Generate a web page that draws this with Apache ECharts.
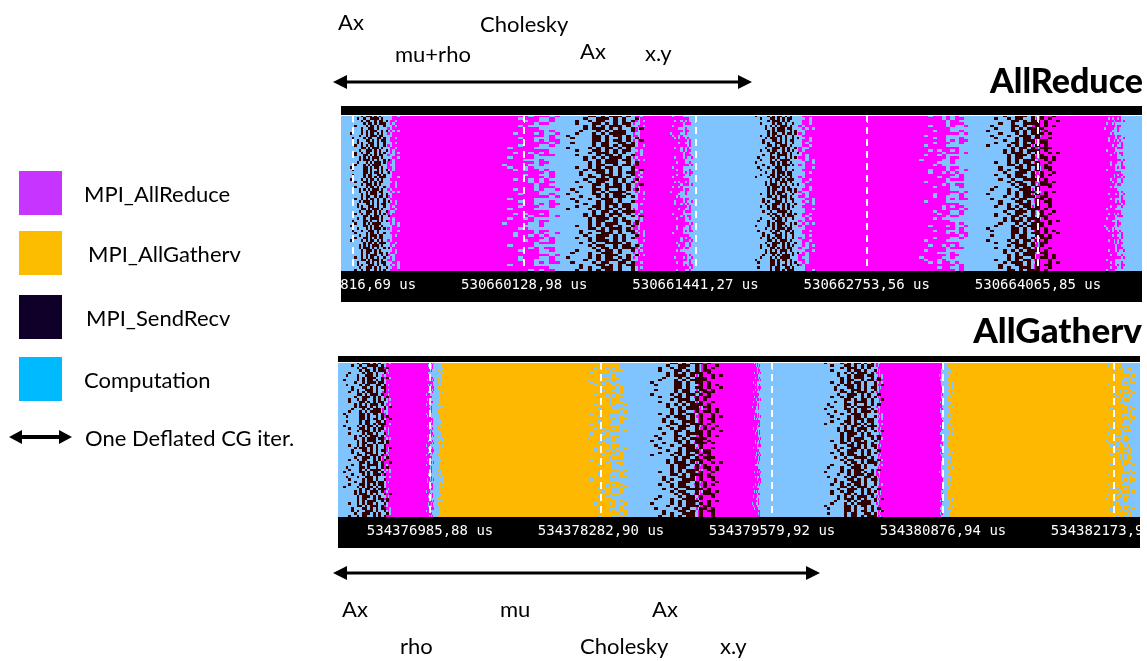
<!DOCTYPE html>
<html><head><meta charset="utf-8">
<script src="https://cdn.jsdelivr.net/npm/echarts@6/dist/echarts.min.js"></script>
<style>html,body{margin:0;padding:0;background:#fff}#c{width:1147px;height:661px}</style>
</head><body><div id="c"></div>
<script>
// ---- states ----
const stateNames = ['Computation', 'MPI_AllReduce', 'MPI_AllGatherv', 'MPI_SendRecv'];
const traceColors = ['#80C4FF', '#FF00FF', '#FFB800', '#330000'];
const legendLabels = ['MPI_AllReduce', 'MPI_AllGatherv', 'MPI_SendRecv', 'Computation'];
const legendColors = ['#C733FF', '#FCBC00', '#0E0028', '#00BAFF'];
const rowCount = 64;

// ---- AllReduce trace (times in us, offsets from first tick) ----
const topTicks = [530658816.69, 530660128.98, 530661441.27, 530662753.56, 530664065.85];
const topSpan = [-92, 6046];
// [state, leadStart, solidStart, solidEnd, trailEnd]
const topCollectives = [
  [1, 245, 398, 1103, 1586],
  [1, 2123, 2276, 2414, 2605],
  [1, 3387, 3594, 4307, 4713],
  [1, 5188, 5303, 5740, 5916]
];
// SendRecv bands [start, end]
const topSendRecv = [[-40, 300], [1600, 2260], [3060, 3440], [4820, 5450]];

// ---- AllGatherv trace ----
const botTicks = [534376985.88, 534378282.90, 534379579.92, 534380876.94, 534382173.96];
const botSpan = [-698, 5385];
const botCollectives = [
  [1, -379, -265, -40, 30],
  [2, 53, 114, 1160, 1494],
  [1, 1990, 2100, 2440, 2510],
  [1, 3375, 3451, 3860, 3890],
  [2, 3913, 3982, 5097, 5347]
];
const botSendRecv = [[-680, -270], [1640, 2250], [2960, 3470]];

// ---- per-process textures (1 = collective, # = SendRecv) ----
const leadTex = ['00101111', '01011111', '00011011', '00110111', '01001111',
  '00011111', '00101011', '01101111', '00010111', '00111111'];
const trailTex = ['111111101100', '111101110010', '111111111010', '110111100000',
  '111111011101', '111011010100', '111111110000', '101111001000', '111111101011',
  '111110110010', '111111111100', '111011101001', '110110100000', '111111010110',
  '111110001000', '111111111101', '111010110100', '111101000000', '111111101110',
  '111101100010'];
const srTex = ['...#....#.##.#..#...', '......##.#.###.#....', '..#....#.##..##.#...',
  '.....#.###.#.#..#.#.', '....#..#..####.#....', '...#...##.#.#.##....',
  '......#.#.###..#.#..', '.#.....##.#.##.#....', '....#.#..###.#..#...',
  '.......#.##.#.###...', '...#..#.##..#.#.#...', '.....#..#.###.##....',
  '..#....##.#..#.#.#..', '......#.###.#.#.....', '....#...#.#.###.#...',
  '...#..#.#.##.#..#...', '.......##.#.##.#..#.', '..#...#..###.#......',
  '.....#.#.#.###.#....', '....#...##.#.#.##...', '...#...#.#.####.....',
  '......#.##..#.##.#..', '.#....#.#.##.#.#....', '.....#..###.#.#..#..'];
// which texture each process row shows
const rowSeq = [13, 4, 21, 9, 0, 17, 6, 22, 11, 2, 19, 8, 15, 1, 23, 10, 5, 18, 3, 14,
  20, 7, 12, 16, 2, 9, 22, 5, 13, 0, 18, 11, 6, 21, 15, 3, 19, 8, 1, 23,
  10, 16, 4, 12, 20, 7, 14, 17, 0, 11, 5, 22, 9, 18, 3, 13, 21, 6, 15, 1,
  19, 8, 23, 10];

function pick(tex, r, k) { return tex[rowSeq[(r + 13 * k) % rowSeq.length] % tex.length]; }
function addBins(segs, r, a, b, pattern, ch, st) {
  const w = (b - a) / pattern.length;
  let i = 0;
  while (i < pattern.length) {
    if (pattern[i] === ch) {
      let j = i;
      while (j < pattern.length && pattern[j] === ch) j++;
      segs.push([r, a + i * w, a + j * w, st]);
      i = j;
    } else i++;
  }
}
function buildSegments(base, span, collectives, sendRecv) {
  const segs = [];
  for (let r = 0; r < rowCount; r++) segs.push([r, base + span[0], base + span[1], 0]);
  collectives.forEach((c, k) => {
    const [st, a, b, d0, d1] = c;
    for (let r = 0; r < rowCount; r++) {
      segs.push([r, base + b, base + d0, st]);
      addBins(segs, r, base + a, base + b, pick(leadTex, r, k + 2), '1', st);
      addBins(segs, r, base + d0, base + d1, pick(trailTex, r, k + 5), '1', st);
    }
  });
  sendRecv.forEach((s, k) => {
    for (let r = 0; r < rowCount; r++) {
      addBins(segs, r, base + s[0], base + s[1], pick(srTex, r, k), '#', 3);
    }
  });
  return segs;
}

const topSegs = buildSegments(topTicks[0], topSpan, topCollectives, topSendRecv);
const botSegs = buildSegments(botTicks[0], botSpan, botCollectives, botSendRecv);

function renderSeg(params, api) {
  const row = api.value(0), s = api.value(1), e = api.value(2), st = api.value(3);
  const p0 = api.coord([s, row]);
  const p1 = api.coord([e, row + 1]);
  const cs = params.coordSys;
  const x0 = Math.round(Math.max(cs.x, Math.min(p0[0], p1[0])));
  const x1 = Math.round(Math.min(cs.x + cs.width, Math.max(p0[0], p1[0])));
  const y0 = Math.round(Math.min(p0[1], p1[1]));
  const y1 = Math.round(Math.max(p0[1], p1[1]));
  if (x1 <= x0) return null;
  return { type: 'rect', shape: { x: x0, y: y0, width: x1 - x0, height: y1 - y0 },
    style: { fill: traceColors[st] } };
}
function renderTick(params, api) {
  const x = Math.round(api.coord([api.value(0), 0])[0]);
  const cs = params.coordSys;
  return { type: 'line', shape: { x1: x, y1: cs.y, x2: x, y2: cs.y + cs.height },
    style: { stroke: '#ffffff', lineWidth: 2, lineDash: [7, 5] } };
}

function xAxisFor(gridIndex, ticks, span) {
  return {
    gridIndex, type: 'value', min: ticks[0] + span[0], max: ticks[0] + span[1], z: 50,
    axisLine: { show: true, lineStyle: { color: '#ffffff', width: 1 } },
    axisTick: { show: true, customValues: ticks, length: 8, lineStyle: { color: '#ffffff', width: 1 } },
    axisLabel: { customValues: ticks, color: '#ffffff', fontFamily: 'DejaVu Sans Mono', fontSize: 14, margin: 7,
      formatter: v => v.toFixed(2).replace('.', ',') + ' us' },
    splitLine: { show: false }
  };
}
function yAxisFor(gridIndex) {
  return { gridIndex, type: 'value', min: 0, max: rowCount, inverse: true, show: false };
}

const F = 'Lato, "Open Sans", sans-serif';
function txt(text, x, y, size, opts) {
  return { type: 'text', x, y, z: 5,
    style: { text, font: (opts && opts.weight || 'normal') + ' ' + size + 'px ' + F,
      fill: '#000', textAlign: (opts && opts.align) || 'left', textVerticalAlign: 'middle' } };
}
function arrow(x1, x2, y, head, half, lw) {
  return [
    { type: 'line', z: 5, shape: { x1: x1 + head - 2, y1: y, x2: x2 - head + 2, y2: y }, style: { stroke: '#000', lineWidth: lw } },
    { type: 'polygon', z: 5, shape: { points: [[x1, y], [x1 + head, y - half], [x1 + head, y + half]] }, style: { fill: '#000' } },
    { type: 'polygon', z: 5, shape: { points: [[x2, y], [x2 - head, y - half], [x2 - head, y + half]] }, style: { fill: '#000' } }
  ];
}

const graphics = [
  { type: 'rect', z: 1, shape: { x: 341, y: 106, width: 801, height: 9 }, style: { fill: '#000' } },
  { type: 'rect', z: 1, shape: { x: 341, y: 271, width: 801, height: 31 }, style: { fill: '#000' } },
  { type: 'rect', z: 1, shape: { x: 338, y: 356, width: 802, height: 6 }, style: { fill: '#000' } },
  { type: 'rect', z: 1, shape: { x: 338, y: 517, width: 802, height: 31 }, style: { fill: '#000' } },
  { type: 'rect', z: 100, shape: { x: 270, y: 272, width: 71, height: 30 }, style: { fill: '#fff' } },
  { type: 'rect', z: 100, shape: { x: 1140, y: 517, width: 7, height: 31 }, style: { fill: '#fff' } },
  txt('AllReduce', 1143, 82, 34, { weight: '900', align: 'right' }),
  txt('AllGatherv', 1142, 332, 35, { weight: '900', align: 'right' }),
  txt('Ax', 338, 23, 22), txt('Cholesky', 480, 25, 22),
  txt('mu+rho', 395, 55, 22), txt('Ax', 580, 52, 22), txt('x.y', 645, 54, 22),
  txt('Ax', 342, 610, 22), txt('mu', 500, 610, 22), txt('Ax', 652, 610, 22),
  txt('rho', 400, 647, 22), txt('Cholesky', 580, 647, 22), txt('x.y', 720, 647, 22),
  txt('One Deflated CG iter.', 85, 439, 22)
].concat(arrow(333, 752, 82, 14, 7, 3), arrow(333, 820, 573, 14, 7, 3), arrow(9, 72, 437, 13, 7, 4));
const legendY = [171, 231, 295, 357];
legendLabels.forEach((l, i) => {
  graphics.push({ type: 'rect', z: 5, shape: { x: 19, y: legendY[i], width: 43, height: 44 }, style: { fill: legendColors[i] } });
  graphics.push(txt(l, i === 1 ? 88 : (i === 2 ? 86 : 84), legendY[i] + 24, 22));
});

const chart = echarts.init(document.getElementById('c'), null, { renderer: 'canvas' });
chart.setOption({
  animation: false,
  backgroundColor: '#ffffff',
  grid: [
    { left: 341, top: 115, width: 801, height: 156, outerBoundsMode: 'none', containLabel: false },
    { left: 338, top: 362, width: 802, height: 155, outerBoundsMode: 'none', containLabel: false }
  ],
  xAxis: [xAxisFor(0, topTicks, topSpan), xAxisFor(1, botTicks, botSpan)],
  yAxis: [yAxisFor(0), yAxisFor(1)],
  series: [
    { name: 'AllReduce trace', type: 'custom', xAxisIndex: 0, yAxisIndex: 0, renderItem: renderSeg,
      data: topSegs, encode: { x: [1, 2], y: 0 }, progressive: 0, silent: true, clip: true },
    { name: 'AllGatherv trace', type: 'custom', xAxisIndex: 1, yAxisIndex: 1, renderItem: renderSeg,
      data: botSegs, encode: { x: [1, 2], y: 0 }, progressive: 0, silent: true, clip: true },
    { type: 'custom', xAxisIndex: 0, yAxisIndex: 0, renderItem: renderTick, z: 10,
      data: topTicks.map(t => [t, 0]), silent: true },
    { type: 'custom', xAxisIndex: 1, yAxisIndex: 1, renderItem: renderTick, z: 10,
      data: botTicks.map(t => [t, 0]), silent: true }
  ],
  graphic: { elements: graphics }
});
</script></body></html>
